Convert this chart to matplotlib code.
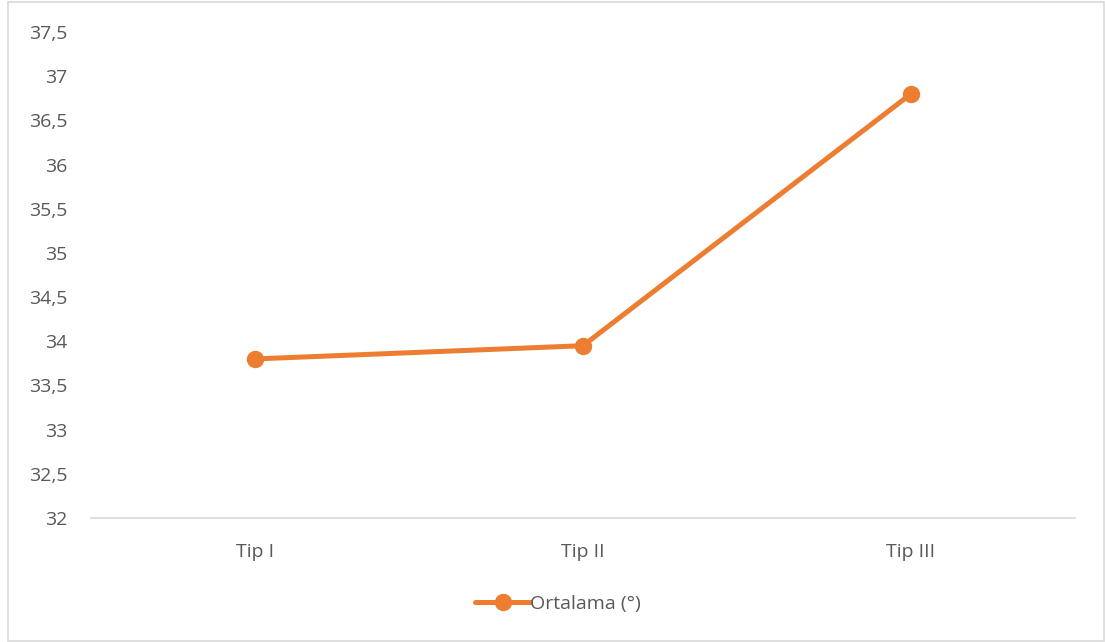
import matplotlib.pyplot as plt
from matplotlib.patches import Rectangle

# mean angle per type
tipler = ["Tip I", "Tip II", "Tip III"]
ortalama = [33.8, 33.95, 36.8]
y_ticks = [32, 32.5, 33, 33.5, 34, 34.5, 35, 35.5, 36, 36.5, 37, 37.5]

turuncu = "#ED7D31"
yazi = "#595959"

plt.rcParams['font.family'] = ['Open Sans', 'DejaVu Sans']

fig = plt.figure(figsize=(11.05, 6.42), dpi=100)
ax = fig.add_axes([91 / 1105, 1 - 518 / 642, (1075 - 91) / 1105, (518 - 32) / 642])

x = list(range(len(tipler)))
ax.plot(x, ortalama, color=turuncu, linewidth=3.6, marker="o", markersize=11.5,
        label="Ortalama (°)", solid_capstyle="round")

ax.set_xlim(-0.5, len(tipler) - 0.5)
ax.set_ylim(32, 37.5)
ax.set_xticks(x)
ax.set_xticklabels(tipler)
ax.set_yticks(y_ticks)
ax.set_yticklabels([("%g" % v).replace(".", ",") for v in y_ticks])
ax.tick_params(axis="both", length=0, colors=yazi, labelsize=14)
ax.tick_params(axis="y", pad=17)
ax.tick_params(axis="x", pad=18)

for s in ["left", "right", "top"]:
    ax.spines[s].set_visible(False)
ax.spines["bottom"].set_color("#D9D9D9")
ax.spines["bottom"].set_linewidth(1.2)

leg = fig.legend(loc="center", bbox_to_anchor=(558 / 1105, 1 - 604 / 642), frameon=False,
                 fontsize=14, handlelength=2.8, handletextpad=0.0)
for t in leg.get_texts():
    t.set_color(yazi)

# outer frame of the chart area
fig.patches.append(Rectangle((8 / 1105, 1 / 642), 1096 / 1105, 639 / 642, transform=fig.transFigure,
                             fill=False, edgecolor="#D9D9D9", linewidth=1.2))

fig.savefig("out.png", dpi=100)
